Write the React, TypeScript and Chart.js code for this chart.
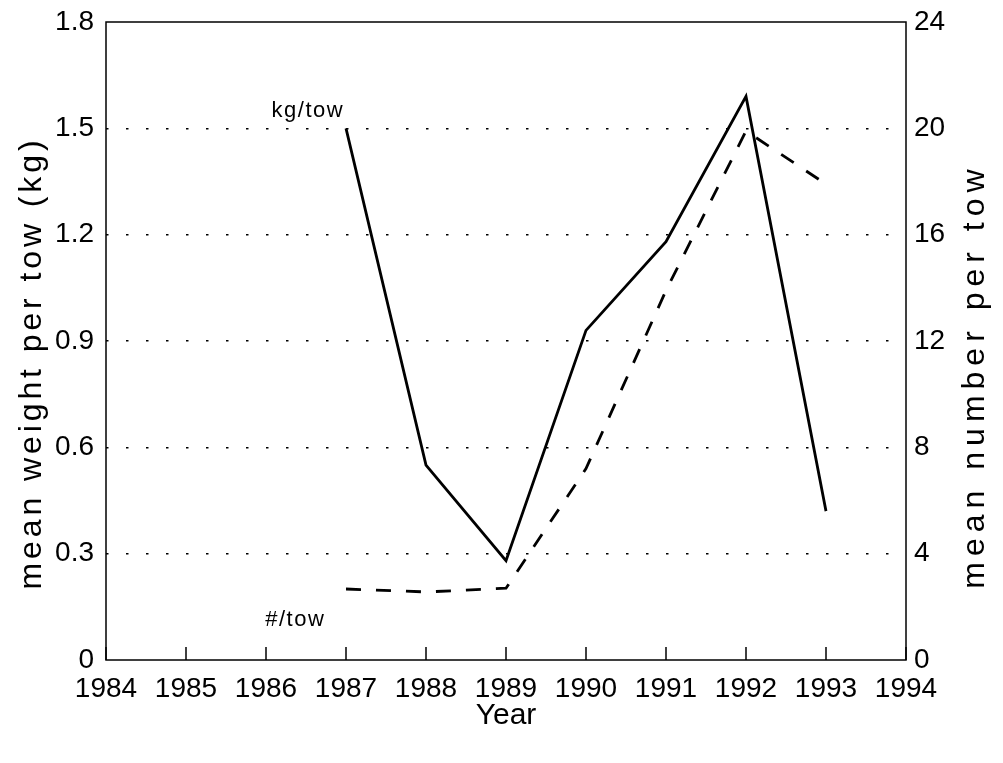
import React, { useEffect, useRef } from 'react';
import { Chart, registerables } from 'chart.js';
Chart.register(...registerables);

const years = [1987, 1988, 1989, 1990, 1991, 1992, 1993];
const kgPerTow = [1.5, 0.55, 0.28, 0.93, 1.18, 1.59, 0.42];
const numberPerTow = [2.67, 2.56, 2.7, 7.2, 13.9, 19.9, 17.9];
const xMin = 1984;
const xMax = 1994;
const leftMax = 1.8;
const leftStep = 0.3;
const rightMax = 24;
const rightStep = 4;
const xTitle = 'Year';
const leftTitle = 'mean weight per tow (kg)';
const rightTitle = 'mean number per tow';
const kgLabel = 'kg/tow';
const numLabel = '#/tow';

const FONT = '"Liberation Sans", Arial, Helvetica, sans-serif';

const framePlugin = {
  id: 'frame',
  afterDraw(chart: any) {
    const { ctx, chartArea: a, scales } = chart;
    const xs = scales.x;
    const ys = scales.y;
    ctx.save();
    ctx.strokeStyle = '#000';
    ctx.lineWidth = 1.5;
    ctx.setLineDash([]);
    ctx.strokeRect(a.left, a.top, a.right - a.left, a.bottom - a.top);
    // inward x ticks
    xs.ticks.forEach((t: any) => {
      const px = xs.getPixelForValue(t.value);
      ctx.beginPath();
      ctx.moveTo(px, a.bottom);
      ctx.lineTo(px, a.bottom - 13);
      ctx.stroke();
    });
    ctx.fillStyle = '#000';
    // series labels
    ctx.font = `22px ${FONT}`;
    ctx.letterSpacing = '1.5px';
    ctx.textAlign = 'left';
    ctx.textBaseline = 'middle';
    ctx.fillText(kgLabel, xs.getPixelForValue(1986.07), ys.getPixelForValue(1.55));
    ctx.fillText(numLabel, xs.getPixelForValue(1985.99), ys.getPixelForValue(0.113));
    // x title
    ctx.font = `30px ${FONT}`;
    ctx.letterSpacing = '0px';
    ctx.textAlign = 'center';
    ctx.fillText(xTitle, (a.left + a.right) / 2, 716);
    // left title
    ctx.save();
    ctx.font = `32px ${FONT}`;
    ctx.letterSpacing = '3.9px';
    ctx.translate(32, 363);
    ctx.rotate(-Math.PI / 2);
    ctx.fillText(leftTitle, 0, 0);
    ctx.restore();
    // right title
    ctx.save();
    ctx.font = `32px ${FONT}`;
    ctx.letterSpacing = '6px';
    ctx.translate(975, 376);
    ctx.rotate(-Math.PI / 2);
    ctx.fillText(rightTitle, 0, 0);
    ctx.restore();
    ctx.restore();
  },
};

const fitVertical = (w: number) => (s: any) => {
  s.width = w;
  s.paddingTop = 0;
  s.paddingBottom = 0;
};

export default function App() {
  const ref = useRef<HTMLCanvasElement>(null);
  useEffect(() => {
    document.body.style.margin = '0';
    const canvas = ref.current!;
    const chart = new Chart(canvas, {
      type: 'line',
      data: {
        datasets: [
          {
            label: kgLabel,
            data: years.map((y, i) => ({ x: y, y: kgPerTow[i] })),
            yAxisID: 'y',
            borderColor: '#000',
            borderWidth: 2.8,
            pointRadius: 0,
            tension: 0,
            fill: false,
          },
          {
            label: numLabel,
            data: years.map((y, i) => ({ x: y, y: numberPerTow[i] })),
            yAxisID: 'y1',
            borderColor: '#000',
            borderWidth: 2.8,
            borderDash: [15, 15],
            pointRadius: 0,
            tension: 0,
            fill: false,
          },
        ],
      },
      options: {
        animation: false,
        responsive: false,
        devicePixelRatio: 1,
        layout: { padding: { top: 22, left: 0, right: 0, bottom: 0 } },
        plugins: { legend: { display: false }, tooltip: { enabled: false } },
        scales: {
          x: {
            type: 'linear',
            min: xMin,
            max: xMax,
            afterFit: (s: any) => { s.height = 103; s.paddingLeft = 0; s.paddingRight = 0; },
            ticks: {
              stepSize: 1,
              autoSkip: false,
              maxRotation: 0,
              padding: 12,
              color: '#000',
              font: { family: FONT, size: 28 },
              callback: (v: any) => String(v),
            },
            grid: { display: false, drawTicks: false },
            border: { display: false },
          },
          y: {
            type: 'linear',
            position: 'left',
            min: 0,
            max: leftMax,
            afterFit: fitVertical(106),
            ticks: {
              stepSize: leftStep,
              padding: 12,
              color: '#000',
              font: { family: FONT, size: 28 },
              callback: (v: any) => (Math.abs(v) < 1e-9 ? '0' : Number(v).toFixed(1)),
            },
            grid: {
              drawTicks: false,
              lineWidth: 1.5,
              color: (c: any) => (c.tick && (c.tick.value < 0.01 || c.tick.value > leftMax - 0.01) ? 'rgba(0,0,0,0)' : '#000'),
            },
            border: { display: false, dash: [2.5, 17.5] },
          },
          y1: {
            type: 'linear',
            position: 'right',
            min: 0,
            max: rightMax,
            afterFit: fitVertical(97),
            ticks: {
              stepSize: rightStep,
              padding: 8,
              color: '#000',
              font: { family: FONT, size: 28 },
            },
            grid: { display: false, drawTicks: false },
            border: { display: false },
          },
        },
      },
      plugins: [framePlugin],
    });
    return () => chart.destroy();
  }, []);
  return <canvas ref={ref} width={1003} height={763} style={{ display: 'block' }} />;
}
